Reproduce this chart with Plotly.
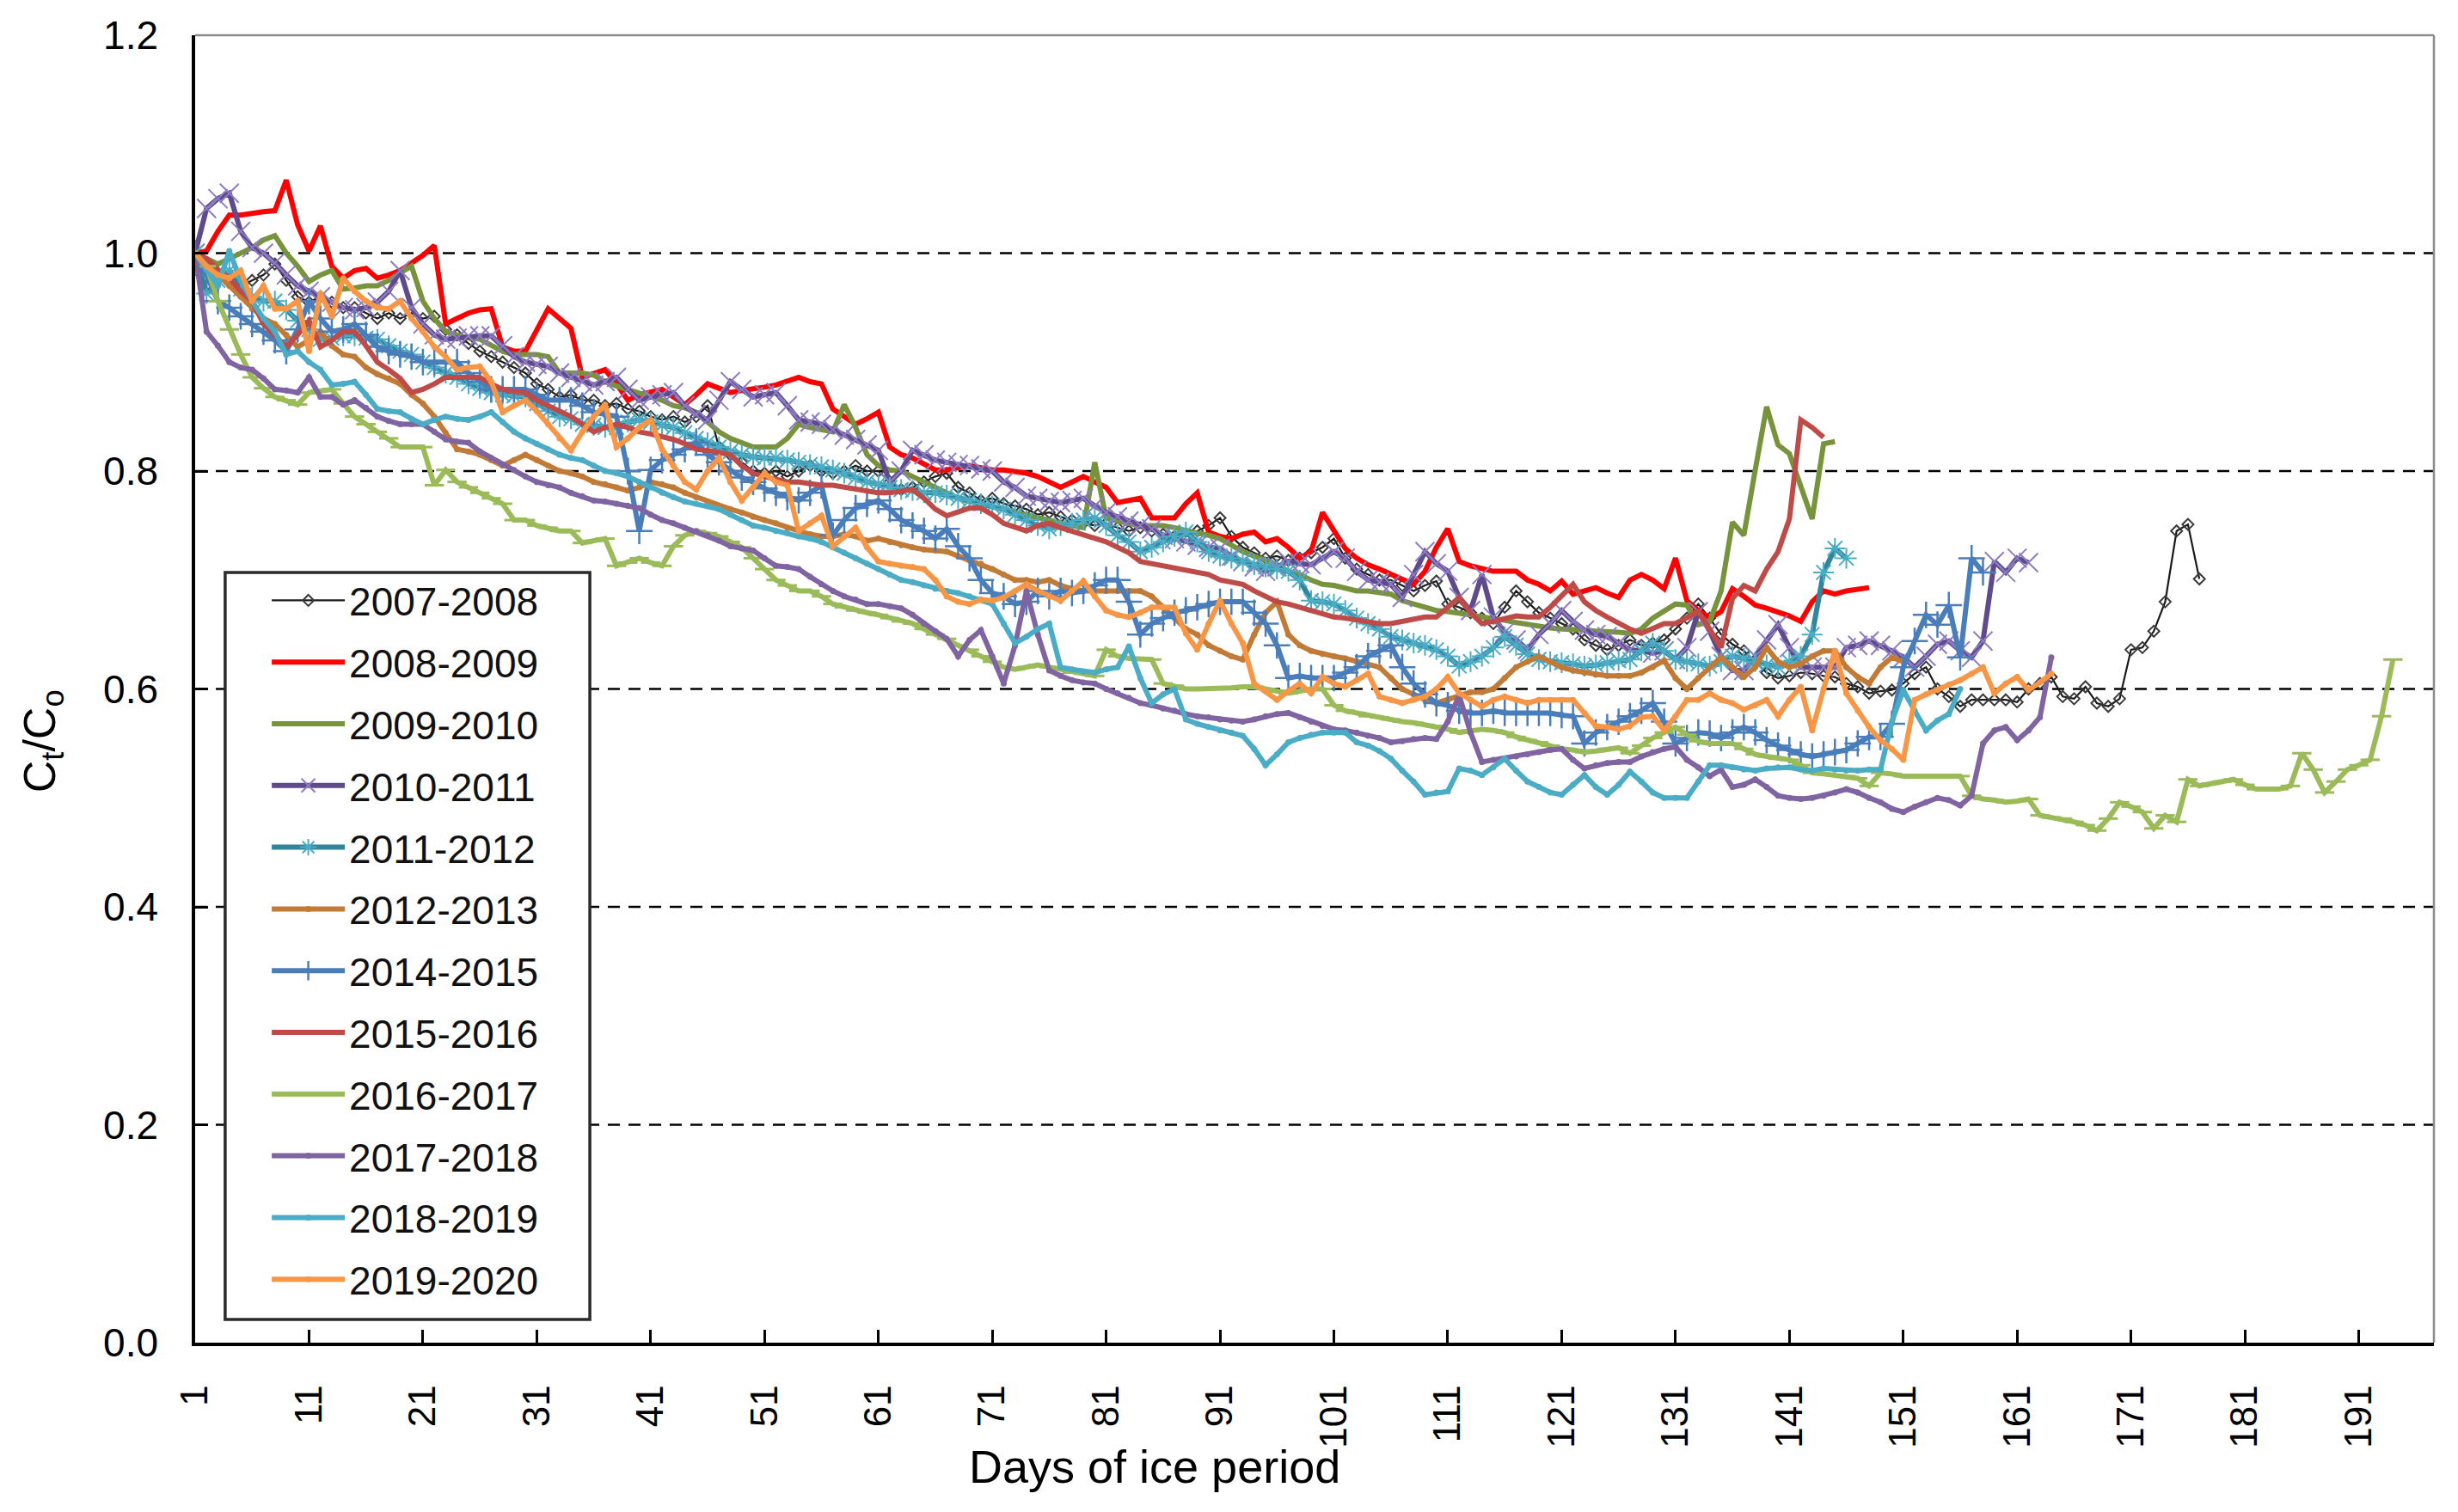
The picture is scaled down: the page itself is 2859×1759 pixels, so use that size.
import plotly.graph_objects as go

# ---------------- data ----------------
names = ["2007-2008", "2008-2009", "2009-2010", "2010-2011", "2011-2012", "2012-2013",
         "2014-2015", "2015-2016", "2016-2017", "2017-2018", "2018-2019", "2019-2020"]

s2007 = [1.00, 0.99, 0.98, 0.975, 0.97, 0.975, 0.98, 0.99, 0.975, 0.96,
         0.955, 0.96, 0.955, 0.95, 0.95, 0.945, 0.94, 0.945, 0.94, 0.945,
         0.94, 0.942, 0.93, 0.925, 0.917, 0.91, 0.905, 0.90, 0.895, 0.89,
         0.88, 0.875, 0.868, 0.87, 0.865, 0.865, 0.86, 0.862, 0.857, 0.855,
         0.85, 0.847, 0.85, 0.845, 0.85, 0.86, 0.822, 0.815, 0.808, 0.80,
         0.798, 0.80, 0.795, 0.80, 0.805, 0.80, 0.798, 0.80, 0.805, 0.80,
         0.80, 0.79, 0.783, 0.785, 0.79, 0.795, 0.798, 0.785, 0.78, 0.773,
         0.775, 0.77, 0.768, 0.765, 0.76, 0.762, 0.758, 0.755, 0.752, 0.75,
         0.752, 0.748, 0.745, 0.748, 0.745, 0.742, 0.74, 0.74, 0.745, 0.75,
         0.757, 0.74, 0.73, 0.725, 0.72, 0.722, 0.718, 0.72, 0.725, 0.73,
         0.738, 0.72, 0.71, 0.705, 0.70, 0.70, 0.695, 0.69, 0.695, 0.699,
         0.678, 0.675, 0.67, 0.665, 0.66, 0.675, 0.69, 0.68, 0.67, 0.665,
         0.66, 0.655, 0.645, 0.64, 0.636, 0.64, 0.645, 0.64, 0.642, 0.645,
         0.655, 0.665, 0.678, 0.665, 0.65, 0.641, 0.635, 0.625, 0.615, 0.61,
         0.612, 0.615, 0.614, 0.612, 0.611, 0.605, 0.602, 0.596, 0.598, 0.599,
         0.605, 0.614, 0.62, 0.60, 0.593, 0.584, 0.59, 0.59, 0.59, 0.59,
         0.588, 0.60, 0.605, 0.611, 0.593, 0.591, 0.602, 0.587, 0.584, 0.591,
         0.636, 0.638, 0.653, 0.68, 0.745, 0.751, 0.701]

s2008 = [1.00, 1.002, 1.02, 1.035, 1.035, 1.037, 1.038, 1.039, 1.067, 1.026,
         1.002, 1.025, 0.988, 0.977, 0.984, 0.986, 0.977, 0.98, 0.984, 0.991,
         0.998, 1.007, 0.935, 0.94, 0.945, 0.948, 0.949, 0.914, 0.91, 0.91,
         0.93, 0.949, 0.94, 0.931, 0.886, 0.89, 0.893, 0.88, 0.865, 0.87,
         0.872, 0.875, 0.868, 0.861, 0.87, 0.88, 0.876, 0.872, 0.874, 0.875,
         0.877, 0.879, 0.883, 0.886, 0.882, 0.88, 0.857, 0.85, 0.843, 0.848,
         0.854, 0.822, 0.815, 0.812, 0.806, 0.801, 0.801, 0.803, 0.805, 0.803,
         0.801, 0.801, 0.80, 0.798, 0.795, 0.79, 0.785, 0.79, 0.795, 0.79,
         0.785, 0.771, 0.773, 0.775, 0.757, 0.757, 0.757, 0.77, 0.78, 0.744,
         0.74, 0.738, 0.742, 0.744, 0.735, 0.738, 0.73, 0.72, 0.726, 0.762,
         0.745, 0.729, 0.72, 0.714, 0.71, 0.705, 0.70, 0.696, 0.708, 0.73,
         0.747, 0.717, 0.713, 0.71, 0.708, 0.708, 0.708, 0.70, 0.696, 0.69,
         0.699, 0.687, 0.69, 0.693, 0.688, 0.684, 0.70, 0.705, 0.70, 0.692,
         0.72, 0.681, 0.672, 0.665, 0.671, 0.692, 0.685, 0.677, 0.674, 0.671,
         0.667, 0.662, 0.68, 0.69, 0.687, 0.69, 0.692, 0.693]

s2009 = [1.00, 0.995, 0.99, 0.995, 1.00, 1.005, 1.012, 1.016, 1.00, 0.988,
         0.974, 0.98, 0.984, 0.967, 0.968, 0.97, 0.97, 0.975, 0.982, 0.988,
         0.956, 0.94, 0.928, 0.925, 0.922, 0.921, 0.915, 0.91, 0.907, 0.907,
         0.907, 0.905, 0.89, 0.89, 0.89, 0.888, 0.882, 0.878, 0.875, 0.872,
         0.868, 0.865, 0.86, 0.858, 0.854, 0.845, 0.836, 0.83, 0.826, 0.822,
         0.822, 0.822, 0.83, 0.843, 0.84, 0.838, 0.836, 0.861, 0.84, 0.815,
         0.805, 0.801, 0.80, 0.795, 0.79, 0.785, 0.78, 0.775, 0.772, 0.77,
         0.768, 0.765, 0.762, 0.76, 0.758, 0.755, 0.752, 0.75, 0.748, 0.808,
         0.757, 0.754, 0.752, 0.75, 0.75, 0.75, 0.748, 0.745, 0.743, 0.741,
         0.738, 0.732, 0.726, 0.722, 0.718, 0.714, 0.708, 0.705, 0.70, 0.696,
         0.695, 0.693, 0.69, 0.69, 0.688, 0.687, 0.681, 0.678, 0.675, 0.672,
         0.671, 0.67, 0.668, 0.666, 0.665, 0.663, 0.661, 0.659, 0.657, 0.656,
         0.655, 0.655, 0.654, 0.653, 0.653, 0.652, 0.651, 0.655, 0.665, 0.672,
         0.678, 0.677, 0.659, 0.662, 0.69, 0.753, 0.741, 0.801, 0.859, 0.824,
         0.816, 0.786, 0.756, 0.825, 0.827]

s2010 = [1.00, 1.041, 1.05, 1.055, 1.02, 1.005, 1.00, 0.991, 0.98, 0.97,
         0.965, 0.96, 0.955, 0.95, 0.948, 0.95, 0.955, 0.965, 0.984, 0.95,
         0.935, 0.925, 0.921, 0.922, 0.924, 0.924, 0.924, 0.915, 0.905, 0.90,
         0.898, 0.896, 0.89, 0.886, 0.882, 0.879, 0.882, 0.886, 0.875, 0.865,
         0.868, 0.87, 0.872, 0.86, 0.852, 0.847, 0.865, 0.882, 0.875, 0.868,
         0.87, 0.872, 0.86, 0.847, 0.845, 0.843, 0.838, 0.833, 0.829, 0.824,
         0.819, 0.79, 0.80, 0.819, 0.815, 0.81, 0.808, 0.806, 0.805, 0.802,
         0.80, 0.79, 0.785, 0.777, 0.775, 0.772, 0.771, 0.773, 0.775, 0.768,
         0.762, 0.758, 0.754, 0.75, 0.747, 0.741, 0.738, 0.735, 0.732, 0.73,
         0.729, 0.722, 0.717, 0.712, 0.708, 0.712, 0.717, 0.715, 0.714, 0.72,
         0.726, 0.72, 0.708, 0.70, 0.698, 0.696, 0.684, 0.705, 0.726, 0.715,
         0.708, 0.684, 0.672, 0.705, 0.666, 0.652, 0.645, 0.636, 0.65, 0.66,
         0.672, 0.662, 0.654, 0.65, 0.648, 0.642, 0.636, 0.635, 0.633, 0.635,
         0.627, 0.638, 0.671, 0.653, 0.63, 0.617, 0.617, 0.63, 0.645, 0.659,
         0.638, 0.62, 0.62, 0.62, 0.62, 0.638, 0.64, 0.644, 0.64, 0.635,
         0.629, 0.62, 0.63, 0.641, 0.644, 0.635, 0.629, 0.644, 0.717, 0.707,
         0.72, 0.716]

s2011 = [1.00, 0.963, 0.975, 0.984, 0.967, 0.96, 0.956, 0.956, 0.948, 0.938,
         0.93, 0.921, 0.922, 0.924, 0.924, 0.922, 0.921, 0.915, 0.91, 0.907,
         0.90, 0.895, 0.89, 0.886, 0.88, 0.876, 0.872, 0.87, 0.869, 0.868,
         0.862, 0.855, 0.85, 0.848, 0.843, 0.842, 0.84, 0.84, 0.845, 0.847,
         0.845, 0.842, 0.84, 0.835, 0.83, 0.826, 0.822, 0.818, 0.815, 0.813,
         0.812, 0.812, 0.81, 0.808, 0.806, 0.804, 0.801, 0.798, 0.794, 0.79,
         0.788, 0.785, 0.783, 0.782, 0.78, 0.78, 0.778, 0.775, 0.773, 0.77,
         0.768, 0.765, 0.76, 0.755, 0.75, 0.747, 0.75, 0.752, 0.755, 0.757,
         0.75, 0.741, 0.735, 0.726, 0.73, 0.735, 0.74, 0.744, 0.735, 0.726,
         0.722, 0.72, 0.717, 0.714, 0.712, 0.71, 0.708, 0.70, 0.681, 0.68,
         0.678, 0.672, 0.665, 0.66, 0.655, 0.648, 0.645, 0.642, 0.64, 0.636,
         0.63, 0.621, 0.625, 0.63, 0.638, 0.648, 0.64, 0.632, 0.627, 0.625,
         0.624, 0.623, 0.621, 0.622, 0.624, 0.626, 0.627, 0.635, 0.642, 0.635,
         0.627, 0.625, 0.623, 0.621, 0.625, 0.63, 0.628, 0.625, 0.622, 0.62,
         0.625, 0.63, 0.65, 0.707, 0.729, 0.72]

s2012 = [1.00, 0.991, 0.98, 0.97, 0.96, 0.949, 0.94, 0.935, 0.925, 0.914,
         0.92, 0.928, 0.915, 0.907, 0.905, 0.895, 0.889, 0.885, 0.88, 0.87,
         0.862, 0.85, 0.835, 0.82, 0.818, 0.815, 0.81, 0.805, 0.81, 0.815,
         0.81, 0.805, 0.80, 0.798, 0.795, 0.79, 0.788, 0.785, 0.782, 0.785,
         0.79, 0.788, 0.785, 0.78, 0.776, 0.772, 0.768, 0.765, 0.762, 0.758,
         0.755, 0.752, 0.748, 0.745, 0.742, 0.74, 0.74, 0.742, 0.74, 0.736,
         0.738, 0.735, 0.732, 0.73, 0.728, 0.727, 0.726, 0.722, 0.718, 0.715,
         0.71, 0.705, 0.70, 0.70, 0.698, 0.70, 0.695, 0.692, 0.69, 0.69,
         0.69, 0.69, 0.69, 0.69, 0.685, 0.675, 0.665, 0.655, 0.65, 0.64,
         0.635, 0.63, 0.627, 0.65, 0.67, 0.68, 0.65, 0.64, 0.635, 0.632,
         0.63, 0.628, 0.625, 0.622, 0.62, 0.61, 0.60, 0.595, 0.59, 0.587,
         0.59, 0.594, 0.597, 0.597, 0.60, 0.61, 0.62, 0.625, 0.63, 0.625,
         0.62, 0.617, 0.615, 0.613, 0.612, 0.612, 0.612, 0.615, 0.62, 0.626,
         0.61, 0.60, 0.61, 0.62, 0.629, 0.62, 0.611, 0.62, 0.638, 0.625,
         0.62, 0.623, 0.63, 0.635, 0.635, 0.62, 0.611, 0.605, 0.62, 0.629,
         0.625]

s2014 = [1.00, 0.98, 0.956, 0.95, 0.942, 0.935, 0.928, 0.92, 0.91, 0.93,
         0.956, 0.94, 0.928, 0.93, 0.935, 0.925, 0.914, 0.91, 0.907, 0.905,
         0.90, 0.90, 0.90, 0.90, 0.89, 0.882, 0.875, 0.875, 0.875, 0.875,
         0.87, 0.865, 0.865, 0.865, 0.86, 0.854, 0.852, 0.85, 0.80, 0.745,
         0.801, 0.81, 0.815, 0.82, 0.826, 0.815, 0.808, 0.80, 0.794, 0.79,
         0.784, 0.78, 0.776, 0.773, 0.78, 0.787, 0.741, 0.755, 0.766, 0.77,
         0.773, 0.765, 0.755, 0.75, 0.745, 0.738, 0.747, 0.731, 0.72, 0.70,
         0.688, 0.685, 0.678, 0.68, 0.69, 0.685, 0.69, 0.688, 0.69, 0.695,
         0.70, 0.70, 0.68, 0.65, 0.66, 0.665, 0.67, 0.672, 0.675, 0.678,
         0.68, 0.68, 0.68, 0.67, 0.66, 0.64, 0.61, 0.612, 0.61, 0.61,
         0.61, 0.615, 0.62, 0.63, 0.635, 0.64, 0.62, 0.605, 0.595, 0.587,
         0.585, 0.58, 0.578, 0.578, 0.58, 0.578, 0.578, 0.578, 0.578, 0.578,
         0.576, 0.575, 0.55, 0.56, 0.565, 0.57, 0.575, 0.58, 0.587, 0.57,
         0.55, 0.555, 0.56, 0.559, 0.555, 0.56, 0.565, 0.56, 0.553, 0.548,
         0.544, 0.54, 0.538, 0.54, 0.542, 0.544, 0.55, 0.556, 0.556, 0.568,
         0.62, 0.644, 0.668, 0.659, 0.677, 0.629, 0.72, 0.707]

s2015 = [1.00, 0.995, 0.985, 0.977, 0.965, 0.956, 0.935, 0.925, 0.914, 0.925,
         0.938, 0.914, 0.92, 0.928, 0.928, 0.915, 0.90, 0.893, 0.885, 0.872,
         0.875, 0.88, 0.886, 0.886, 0.886, 0.886, 0.88, 0.875, 0.873, 0.872,
         0.865, 0.86, 0.855, 0.85, 0.843, 0.836, 0.84, 0.843, 0.84, 0.836,
         0.834, 0.832, 0.829, 0.825, 0.82, 0.819, 0.817, 0.815, 0.805, 0.798,
         0.795, 0.793, 0.79, 0.79, 0.788, 0.787, 0.787, 0.785, 0.783, 0.781,
         0.78, 0.78, 0.782, 0.783, 0.775, 0.765, 0.759, 0.762, 0.766, 0.766,
         0.76, 0.752, 0.748, 0.745, 0.75, 0.752, 0.748, 0.745, 0.742, 0.738,
         0.735, 0.73, 0.725, 0.717, 0.715, 0.714, 0.712, 0.71, 0.708, 0.705,
         0.70, 0.698, 0.696, 0.69, 0.685, 0.68, 0.678, 0.675, 0.672, 0.668,
         0.666, 0.665, 0.663, 0.662, 0.66, 0.66, 0.662, 0.664, 0.666, 0.666,
         0.675, 0.684, 0.67, 0.66, 0.662, 0.665, 0.667, 0.666, 0.666, 0.675,
         0.685, 0.696, 0.68, 0.672, 0.666, 0.66, 0.655, 0.651, 0.655, 0.66,
         0.66, 0.665, 0.671, 0.655, 0.638, 0.683, 0.695, 0.69, 0.71, 0.726,
         0.756, 0.847, 0.84, 0.831]

s2016 = [1.00, 0.988, 0.956, 0.93, 0.907, 0.886, 0.876, 0.868, 0.865, 0.861,
         0.872, 0.874, 0.875, 0.862, 0.85, 0.843, 0.836, 0.83, 0.822, 0.822,
         0.822, 0.787, 0.801, 0.79, 0.785, 0.78, 0.775, 0.77, 0.755, 0.755,
         0.75, 0.748, 0.745, 0.745, 0.734, 0.736, 0.738, 0.713, 0.716, 0.72,
         0.716, 0.713, 0.731, 0.741, 0.745, 0.743, 0.74, 0.735, 0.73, 0.72,
         0.71, 0.70, 0.695, 0.69, 0.69, 0.685, 0.678, 0.675, 0.672, 0.67,
         0.668, 0.665, 0.662, 0.66, 0.655, 0.65, 0.646, 0.64, 0.636, 0.63,
         0.625, 0.62, 0.618, 0.62, 0.622, 0.62, 0.618, 0.615, 0.614, 0.612,
         0.636, 0.63, 0.628, 0.627, 0.627, 0.605, 0.603, 0.60, 0.60, 0.60,
         0.60, 0.601, 0.602, 0.602, 0.60, 0.598, 0.596, 0.598, 0.60, 0.60,
         0.585, 0.58, 0.578, 0.575, 0.574, 0.572, 0.57, 0.569, 0.567, 0.566,
         0.563, 0.56, 0.562, 0.563, 0.562, 0.56, 0.556, 0.553, 0.551, 0.548,
         0.545, 0.544, 0.542, 0.543, 0.545, 0.546, 0.541, 0.548, 0.555, 0.56,
         0.565, 0.558, 0.552, 0.55, 0.55, 0.55, 0.545, 0.54, 0.538, 0.536,
         0.535, 0.53, 0.523, 0.522, 0.521, 0.52, 0.518, 0.511, 0.523, 0.522,
         0.52, 0.52, 0.52, 0.52, 0.52, 0.52, 0.502, 0.499, 0.498, 0.496,
         0.497, 0.499, 0.484, 0.482, 0.481, 0.478, 0.475, 0.47, 0.481, 0.496,
         0.492, 0.487, 0.472, 0.484, 0.478, 0.517, 0.511, 0.513, 0.515, 0.517,
         0.512, 0.508, 0.508, 0.508, 0.511, 0.541, 0.526, 0.505, 0.515, 0.526,
         0.53, 0.535, 0.575, 0.627]

s2017 = [1.00, 0.928, 0.915, 0.90, 0.895, 0.893, 0.885, 0.875, 0.874, 0.872,
         0.886, 0.868, 0.868, 0.861, 0.865, 0.858, 0.85, 0.846, 0.843, 0.843,
         0.843, 0.836, 0.829, 0.827, 0.826, 0.818, 0.812, 0.806, 0.801, 0.795,
         0.79, 0.787, 0.785, 0.78, 0.777, 0.773, 0.772, 0.77, 0.768, 0.766,
         0.76, 0.755, 0.752, 0.748, 0.745, 0.741, 0.736, 0.731, 0.729, 0.727,
         0.72, 0.713, 0.712, 0.71, 0.703, 0.696, 0.69, 0.685, 0.682, 0.678,
         0.678, 0.676, 0.674, 0.668, 0.66, 0.653, 0.646, 0.63, 0.645, 0.654,
         0.63, 0.605, 0.64, 0.69, 0.65, 0.617, 0.612, 0.608, 0.606, 0.605,
         0.60, 0.596, 0.592, 0.587, 0.585, 0.582, 0.58, 0.577, 0.575, 0.574,
         0.572, 0.571, 0.57, 0.572, 0.575, 0.577, 0.578, 0.574, 0.57, 0.566,
         0.563, 0.562, 0.56, 0.557, 0.555, 0.551, 0.552, 0.554, 0.555, 0.554,
         0.57, 0.594, 0.56, 0.533, 0.535, 0.536, 0.538, 0.54, 0.542, 0.544,
         0.545, 0.535, 0.527, 0.53, 0.532, 0.533, 0.533, 0.538, 0.542, 0.545,
         0.547, 0.535, 0.528, 0.52, 0.526, 0.51, 0.512, 0.517, 0.51, 0.502,
         0.50, 0.499, 0.50, 0.502, 0.505, 0.508, 0.505, 0.50, 0.496, 0.49,
         0.487, 0.492, 0.496, 0.50, 0.498, 0.493, 0.502, 0.55, 0.562, 0.565,
         0.553, 0.562, 0.574, 0.629]

s2018 = [1.00, 0.985, 0.97, 1.002, 0.975, 0.956, 0.94, 0.928, 0.907, 0.91,
         0.90, 0.893, 0.879, 0.88, 0.882, 0.87, 0.857, 0.855, 0.854, 0.848,
         0.843, 0.847, 0.85, 0.848, 0.847, 0.85, 0.854, 0.845, 0.836, 0.83,
         0.825, 0.82, 0.815, 0.812, 0.81, 0.805, 0.80, 0.798, 0.795, 0.79,
         0.785, 0.78, 0.776, 0.772, 0.77, 0.768, 0.765, 0.76, 0.755, 0.75,
         0.748, 0.745, 0.743, 0.74, 0.738, 0.735, 0.73, 0.725, 0.72, 0.715,
         0.71, 0.705, 0.70, 0.698, 0.695, 0.692, 0.69, 0.688, 0.685, 0.682,
         0.678, 0.66, 0.642, 0.648, 0.655, 0.66, 0.62, 0.618, 0.616, 0.615,
         0.618, 0.62, 0.639, 0.61, 0.587, 0.595, 0.60, 0.572, 0.568, 0.565,
         0.562, 0.56, 0.557, 0.545, 0.53, 0.54, 0.551, 0.555, 0.558, 0.56,
         0.56, 0.56, 0.551, 0.548, 0.543, 0.536, 0.525, 0.515, 0.503, 0.505,
         0.506, 0.527, 0.525, 0.521, 0.528, 0.536, 0.525, 0.515, 0.51, 0.505,
         0.503, 0.512, 0.521, 0.51, 0.503, 0.512, 0.524, 0.515, 0.505, 0.50,
         0.50, 0.50, 0.515, 0.53, 0.53, 0.528, 0.526, 0.525, 0.527, 0.528,
         0.528, 0.526, 0.525, 0.527, 0.526, 0.525, 0.525, 0.526, 0.526, 0.57,
         0.599, 0.58, 0.562, 0.571, 0.577, 0.60]

s2019 = [1.00, 0.988, 0.98, 0.977, 0.984, 0.956, 0.97, 0.949, 0.949, 0.956,
         0.91, 0.963, 0.942, 0.977, 0.965, 0.956, 0.95, 0.949, 0.956, 0.94,
         0.928, 0.914, 0.905, 0.893, 0.895, 0.896, 0.882, 0.854, 0.86, 0.865,
         0.855, 0.843, 0.83, 0.819, 0.836, 0.85, 0.861, 0.822, 0.83, 0.84,
         0.847, 0.82, 0.805, 0.79, 0.783, 0.80, 0.812, 0.79, 0.773, 0.785,
         0.798, 0.79, 0.787, 0.745, 0.752, 0.759, 0.731, 0.74, 0.748, 0.73,
         0.717, 0.715, 0.713, 0.712, 0.71, 0.70, 0.685, 0.68, 0.678, 0.682,
         0.681, 0.684, 0.69, 0.696, 0.69, 0.685, 0.681, 0.69, 0.699, 0.685,
         0.672, 0.668, 0.666, 0.67, 0.675, 0.675, 0.675, 0.651, 0.636, 0.66,
         0.681, 0.66, 0.642, 0.605, 0.598, 0.59, 0.598, 0.605, 0.596, 0.611,
         0.605, 0.602, 0.608, 0.614, 0.593, 0.59, 0.587, 0.59, 0.593, 0.60,
         0.611, 0.596, 0.59, 0.584, 0.59, 0.593, 0.59, 0.587, 0.59, 0.59,
         0.59, 0.59, 0.578, 0.566, 0.565, 0.563, 0.566, 0.574, 0.575, 0.562,
         0.575, 0.59, 0.59, 0.596, 0.59, 0.587, 0.581, 0.585, 0.59, 0.575,
         0.59, 0.602, 0.562, 0.60, 0.635, 0.596, 0.58, 0.565, 0.553, 0.545,
         0.535, 0.59, 0.595, 0.599, 0.604, 0.608, 0.614, 0.62, 0.596, 0.605,
         0.611, 0.599, 0.606, 0.614]

series_values = [s2007, s2008, s2009, s2010, s2011, s2012,
                 s2014, s2015, s2016, s2017, s2018, s2019]

x_ticks = list(range(1, 192, 10))
y_ticks = [0.0, 0.2, 0.4, 0.6, 0.8, 1.0, 1.2]
grid_levels = [0.2, 0.4, 0.6, 0.8, 1.0]

# ---------------- styles ----------------
FONT = "Liberation Sans, Arial, sans-serif"
styles = [
    dict(color="#1a1a1a", width=2.2, mode="lines+markers",
         marker=dict(symbol="diamond-open", size=10, color="#3a3a3a", line=dict(width=2, color="#3a3a3a"))),
    dict(color="#FF0000", width=6, mode="lines", marker=None),
    dict(color="#77933C", width=6, mode="lines", marker=None),
    dict(color="#5F4B8B", width=6, mode="lines+markers",
         marker=dict(symbol="x-thin-open", size=22, color="#8E7CC3", line=dict(width=2, color="#8E7CC3"))),
    dict(color="#31859C", width=6, mode="lines+markers",
         marker=dict(symbol="asterisk-open", size=20, color="#4BACC6", line=dict(width=2, color="#4BACC6"))),
    dict(color="#C27A37", width=6, mode="lines+markers",
         marker=dict(symbol="circle", size=7, color="#C27A37")),
    dict(color="#4A7EBB", width=6, mode="lines+markers",
         marker=dict(symbol="cross-thin-open", size=22, color="#4A7EBB", line=dict(width=2.5, color="#4A7EBB"))),
    dict(color="#BE4B48", width=6, mode="lines", marker=None),
    dict(color="#9BBB59", width=6, mode="lines+markers",
         marker=dict(symbol="line-ew-open", size=16, color="#9BBB59", line=dict(width=3, color="#9BBB59"))),
    dict(color="#8064A2", width=6, mode="lines+markers",
         marker=dict(symbol="circle", size=7, color="#8064A2")),
    dict(color="#4BACC6", width=6, mode="lines+markers",
         marker=dict(symbol="circle", size=7, color="#4BACC6")),
    dict(color="#F79646", width=6, mode="lines+markers",
         marker=dict(symbol="circle", size=7, color="#F79646")),
]

fig = go.Figure()
for name, vals, st in zip(names, series_values, styles):
    kw = dict(
        x=list(range(1, len(vals) + 1)), y=vals, name=name, mode=st["mode"],
        line=dict(color=st["color"], width=st["width"]),
        legendgroup=name,
    )
    if st["marker"] is not None:
        kw["marker"] = st["marker"]
    fig.add_trace(go.Scatter(**kw))

shapes = []
for g in grid_levels:
    shapes.append(dict(type="line", xref="paper", yref="y", x0=0, x1=1, y0=g, y1=g,
                       line=dict(color="black", width=2.5, dash="14px,10px"), layer="below"))
# top and right frame (grey)
shapes.append(dict(type="line", xref="paper", yref="paper", x0=0, x1=1, y0=1, y1=1,
                   line=dict(color="#8c8c8c", width=2.5)))
shapes.append(dict(type="line", xref="paper", yref="paper", x0=1, x1=1, y0=0, y1=1,
                   line=dict(color="#8c8c8c", width=2.5)))
# legend frame (white box with dark border, drawn above the lines, below the legend)
shapes.append(dict(type="rect", xref="paper", yref="paper", x0=0.0134, x1=0.1763, y0=0.0178, y1=0.5891,
                   fillcolor="white", line=dict(color="#2a2a2a", width=3.5), layer="above"))

fig.update_layout(
    width=2859, height=1759,
    margin=dict(l=227, r=28, t=41, b=197),
    paper_bgcolor="white", plot_bgcolor="white",
    font=dict(family=FONT, color="black"),
    shapes=shapes,
    showlegend=True,
    legend=dict(
        x=0.0323, y=0.5917, xanchor="left", yanchor="top",
        bgcolor="rgba(0,0,0,0)", borderwidth=0,
        font=dict(family=FONT, size=46, color="#111111"),
        tracegroupgap=9, itemwidth=85,
    ),
    xaxis=dict(
        range=[1, 197.6], tickmode="array", tickvals=x_ticks,
        ticktext=[str(t) for t in x_ticks], tickangle=-90,
        ticks="inside", ticklen=15, tickwidth=2.5, tickcolor="black",
        showline=True, linecolor="black", linewidth=3.5,
        showgrid=False, zeroline=False,
        tickfont=dict(family=FONT, size=44, color="black"),
        ticklabelstandoff=28,
    ),
    yaxis=dict(
        range=[0, 1.2], tickmode="array", tickvals=y_ticks,
        ticktext=["%.1f" % v for v in y_ticks],
        ticks="inside", ticklen=15, tickwidth=2.5, tickcolor="black",
        showline=True, linecolor="black", linewidth=3.5,
        showgrid=False, zeroline=False,
        tickfont=dict(family=FONT, size=46, color="black"),
        ticklabelstandoff=30,
    ),
    annotations=[
        dict(text="Days of ice period", xref="paper", yref="paper", x=0.4286, y=-0.095,
             xanchor="center", yanchor="middle", showarrow=False,
             font=dict(family=FONT, size=54, color="black")),
        dict(text="C<sub>t</sub>/C<sub>o</sub>", xref="paper", yref="paper", x=-0.068, y=0.46,
             xanchor="center", yanchor="middle", showarrow=False, textangle=-90,
             font=dict(family=FONT, size=52, color="black")),
    ],
)

fig.write_html("out.html", config={"displayModeBar": False},
               post_script="document.body.style.margin='0';document.body.style.overflow='hidden';")
